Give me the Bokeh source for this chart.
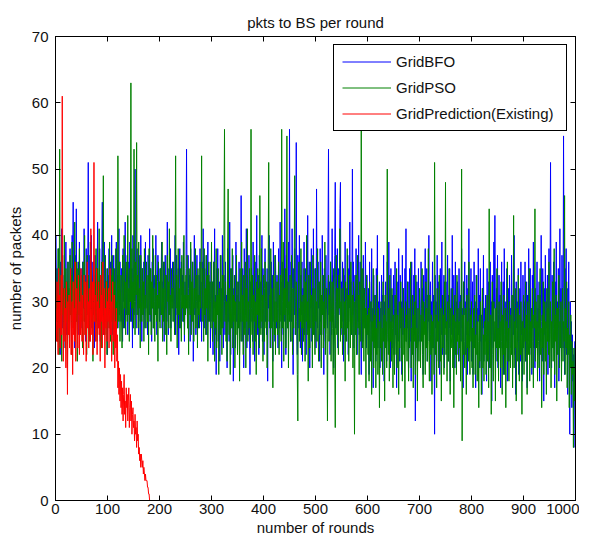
from bokeh.plotting import figure
from bokeh.models import LinearAxis, Range1d, Legend, LegendItem, FixedTicker
from bokeh.embed import file_html
from bokeh.resources import INLINE

title_text = "pkts to BS per round"
x_label = "number of rounds"
y_label = "number of packets"
x_ticks = [0, 100, 200, 300, 400, 500, 600, 700, 800, 900, 1000]
y_ticks = [0, 10, 20, 30, 40, 50, 60, 70]
series_names = ["GridBFO", "GridPSO", "GridPrediction(Existing)"]

grid_bfo = [
    40, 28, 35, 24, 33, 38, 27, 31, 22, 36, 29, 41, 26, 34, 30, 23, 37, 32, 28, 39, 25, 33, 30, 36, 27,
    31, 24, 38, 29, 35, 26, 40, 33, 45, 28, 32, 23, 37, 30, 44, 27, 34, 29, 36, 25, 39, 31, 28, 35, 30,
    26, 36, 32, 29, 41, 27, 34, 24, 38, 31, 28, 35, 51, 30, 25, 37, 33, 29, 40, 26, 32, 36, 28, 34, 23,
    37, 30, 27, 35, 31, 42, 26, 33, 29, 38, 24, 34, 30, 36, 45, 28, 32, 25, 39, 31, 27, 35, 30, 33, 22,
    34, 29, 38, 26, 31, 36, 28, 40, 25, 33, 30, 37, 27, 35, 24, 32, 39, 29, 34, 26, 31, 41, 28, 36, 30,
    27, 35, 31, 24, 38, 30, 33, 26, 42, 29, 34, 28, 37, 25, 32, 36, 30, 39, 27, 33, 29, 35, 23, 40, 31,
    28, 36, 50, 30, 26, 34, 38, 29, 32, 25, 37, 31, 27, 40, 33, 24, 35, 30, 28, 36, 32, 26, 39, 29, 34,
    30, 25, 37, 33, 28, 41, 27, 35, 31, 24, 36, 29, 38, 26, 32, 34, 28, 40, 30, 25, 33, 37, 29, 31, 27,
    35, 28, 32, 39, 26, 33, 30, 36, 24, 31, 37, 29, 34, 27, 42, 30, 25, 35, 32, 28, 38, 26, 33, 30, 36,
    29, 34, 27, 31, 40, 25, 33, 37, 28, 30, 35, 22, 32, 38, 29, 26, 36, 31, 34, 27, 39, 30, 24, 33, 28,
    35, 53, 30, 26, 37, 32, 29, 34, 24, 38, 31, 27, 36, 33, 21, 30, 40, 28, 35, 25, 32, 37, 29, 31, 26,
    34, 30, 38, 27, 33, 24, 36, 29, 41, 31, 26, 35, 28, 32, 37, 25, 30, 39, 27, 34, 29, 33, 23, 36, 31,
    27, 33, 22, 36, 29, 41, 25, 31, 19, 35, 28, 38, 24, 30, 33, 21, 37, 27, 32, 26, 40, 29, 23, 34, 30,
    25, 36, 28, 31, 20, 38, 27, 33, 24, 42, 29, 22, 35, 30, 26, 37, 18, 32, 28, 34, 23, 39, 27, 31, 25,
    33, 28, 36, 22, 30, 27, 46, 31, 24, 35, 29, 20, 38, 26, 32, 28, 41, 23, 34, 30, 25, 37, 29, 19, 33,
    27, 35, 30, 24, 39, 28, 32, 21, 36, 26, 31, 43, 25, 29, 34, 22, 37, 28, 33, 26, 30, 40, 24, 35, 29,
    22, 32, 38, 27, 30, 25, 35, 18, 33, 29, 40, 26, 31, 23, 36, 28, 34, 21, 39, 27, 30, 24, 37, 32, 26,
    34, 29, 23, 38, 31, 26, 42, 28, 33, 20, 36, 30, 25, 35, 27, 44, 31, 22, 37, 29, 33, 26, 39, 28, 56,
    30, 24, 36, 27, 41, 32, 19, 35, 28, 38, 25, 31, 54, 29, 22, 37, 33, 26, 40, 30, 23, 34, 28, 36, 21,
    32, 27, 39, 25, 30, 35, 22, 33, 28, 43, 26, 31, 36, 20, 34, 29, 38, 24, 32, 27, 41, 30, 25, 35, 28,
    23, 47, 30, 26, 36, 29, 33, 21, 38, 27, 31, 25, 40, 28, 34, 19, 35, 30, 24, 37, 29, 32, 26, 39, 53,
    28, 33, 22, 36, 30, 25, 41, 27, 34, 20, 31, 37, 48, 26, 32, 29, 38, 23, 35, 28, 30, 44, 48, 25, 33,
    27, 36, 31, 21, 34, 28, 39, 24, 32, 30, 26, 37, 22, 35, 29, 42, 27, 33, 25, 31, 50, 28, 36, 23, 30,
    34, 26, 38, 29, 22, 33, 27, 40, 25, 31, 36, 28, 19, 35, 30, 24, 37, 27, 32, 26, 39, 29, 23, 34, 28,
    25, 32, 19, 36, 27, 30, 22, 38, 26, 29, 17, 34, 24, 31, 28, 21, 35, 26, 40, 23, 30, 27, 33, 20, 29,
    26, 34, 22, 31, 28, 37, 18, 30, 25, 33, 27, 21, 36, 29, 24, 39, 26, 32, 20, 35, 28, 23, 31, 27, 34,
    22, 29, 36, 25, 31, 17, 33, 27, 24, 38, 28, 21, 34, 26, 30, 19, 37, 25, 32, 28, 23, 35, 27, 41, 24,
    30, 26, 33, 20, 28, 35, 24, 31, 18, 36, 27, 29, 22, 34, 25, 38, 12, 30, 26, 33, 21, 28, 35, 24, 31,
    27, 22, 36, 29, 25, 32, 19, 34, 26, 30, 38, 23, 28, 35, 21, 31, 27, 40, 24, 29, 33, 18, 30, 26, 36,
    23, 31, 28, 10, 34, 26, 30, 21, 37, 27, 33, 24, 29, 19, 35, 28, 25, 39, 22, 31, 27, 34, 20, 30, 26,
    33, 24, 29, 37, 21, 31, 26, 35, 18, 28, 32, 25, 40, 27, 23, 34, 29, 20, 36, 26, 30, 22, 33, 28, 25,
    35, 27, 21, 31, 24, 38, 26, 29, 17, 33, 28, 36, 22, 30, 25, 34, 19, 32, 27, 41, 23, 29, 26, 35, 21,
    28, 33, 19, 26, 36, 23, 30, 17, 34, 25, 29, 22, 38, 27, 31, 20, 35, 24, 28, 16, 32, 26, 37, 21, 29,
    24, 31, 27, 18, 35, 26, 22, 33, 28, 20, 36, 25, 30, 15, 34, 27, 23, 39, 29, 43, 26, 21, 32, 24, 37,
    20, 28, 34, 25, 31, 17, 29, 36, 23, 27, 33, 19, 38, 26, 22, 30, 24, 35, 18, 28, 32, 21, 34, 26, 29,
    23, 37, 27, 20, 31, 25, 40, 22, 29, 16, 33, 26, 30, 24, 35, 19, 28, 32, 21, 36, 25, 27, 18, 34, 23,
    30, 26, 36, 21, 28, 33, 17, 31, 24, 38, 27, 22, 35, 25, 29, 19, 34, 26, 39, 23, 30, 20, 32, 27, 24,
    36, 22, 29, 26, 33, 18, 31, 24, 40, 27, 21, 35, 28, 15, 32, 25, 37, 23, 30, 26, 34, 19, 28, 38, 24,
    31, 51, 26, 20, 34, 28, 23, 36, 27, 17, 33, 25, 39, 22, 30, 26, 35, 18, 29, 41, 24, 32, 21, 37, 27,
    23, 55, 30, 19, 35, 26, 38, 22, 32, 16, 28, 36, 24, 10, 30, 20, 27, 14, 25, 18, 22, 8, 19, 24, 13,
]

grid_pso = [
    35, 27, 31, 24, 38, 29, 22, 53, 30, 26, 34, 21, 37, 28, 32, 25, 40, 30, 23, 35, 27, 33, 20, 36, 29,
    32, 25, 37, 28, 34, 22, 39, 30, 26, 33, 29, 42, 24, 31, 27, 36, 21, 35, 30, 28, 38, 25, 32, 27, 34,
    29, 23, 36, 31, 27, 40, 25, 33, 30, 22, 37, 28, 34, 26, 31, 24, 39, 29, 35, 27, 32, 21, 36, 30, 28,
    33, 26, 38, 29, 24, 35, 31, 27, 41, 25, 32, 30, 23, 36, 28, 34, 49, 27, 31, 25, 37, 29, 33, 22, 35,
    28, 32, 26, 39, 30, 24, 34, 27, 37, 31, 22, 35, 29, 33, 25, 38, 28, 30, 26, 52, 32, 27, 36, 24, 31,
    34, 28, 23, 37, 30, 26, 40, 29, 33, 25, 36, 31, 27, 43, 28, 32, 24, 35, 30, 63, 27, 38, 29, 33, 26,
    53, 30, 25, 36, 31, 54, 28, 34, 26, 39, 29, 32, 23, 37, 30, 27, 35, 28, 33, 24, 38, 29, 31, 26, 36,
    30, 27, 34, 22, 38, 31, 28, 35, 25, 33, 29, 40, 26, 32, 30, 24, 37, 28, 34, 27, 31, 21, 36, 29, 33,
    26, 35, 30, 28, 39, 24, 32, 27, 36, 31, 25, 34, 29, 22, 37, 30, 33, 26, 41, 28, 31, 24, 35, 29, 32,
    27, 36, 30, 25, 33, 52, 29, 34, 23, 31, 38, 28, 32, 26, 35, 30, 24, 37, 29, 33, 27, 40, 25, 31, 28,
    34, 29, 37, 26, 31, 22, 35, 30, 28, 39, 25, 33, 27, 36, 31, 24, 32, 29, 38, 26, 30, 34, 23, 35, 28,
    31, 26, 36, 29, 33, 52, 27, 35, 30, 24, 38, 28, 32, 25, 37, 29, 34, 21, 31, 36, 27, 33, 30, 26, 39,
    28, 24, 33, 27, 36, 21, 30, 26, 38, 23, 31, 28, 35, 19, 32, 27, 25, 37, 29, 22, 34, 26, 31, 40, 56,
    27, 33, 24, 30, 21, 36, 47, 28, 25, 32, 19, 35, 29, 26, 38, 23, 31, 27, 34, 20, 30, 25, 37, 28, 22,
    33, 26, 30, 18, 35, 28, 24, 39, 27, 31, 22, 34, 29, 25, 36, 20, 32, 27, 41, 24, 30, 26, 35, 28, 23,
    56, 29, 25, 34, 22, 31, 27, 37, 24, 30, 19, 33, 28, 35, 26, 32, 23, 46, 29, 25, 38, 27, 31, 21, 34,
    28, 24, 36, 30, 26, 33, 20, 29, 35, 51, 27, 31, 23, 38, 26, 32, 28, 17, 34, 29, 25, 37, 22, 30, 27,
    33, 25, 29, 36, 22, 31, 27, 34, 24, 56, 30, 26, 39, 21, 32, 28, 35, 23, 29, 55, 26, 33, 20, 30, 27,
    34, 28, 24, 37, 29, 22, 32, 26, 35, 49, 30, 25, 33, 27, 19, 12, 31, 36, 24, 29, 27, 38, 22, 30, 26,
    31, 24, 35, 28, 21, 33, 27, 40, 25, 30, 18, 34, 28, 23, 36, 26, 31, 29, 20, 37, 25, 32, 27, 22, 35,
    27, 30, 24, 38, 26, 21, 33, 29, 25, 36, 20, 31, 28, 34, 23, 30, 26, 39, 22, 28, 32, 25, 12, 29, 34,
    24, 31, 27, 36, 21, 29, 33, 26, 19, 35, 28, 23, 11, 30, 37, 25, 32, 27, 22, 34, 29, 41, 24, 30, 26,
    32, 22, 28, 35, 25, 30, 18, 33, 27, 24, 38, 26, 31, 21, 29, 34, 23, 36, 28, 25, 31, 20, 33, 27, 10,
    30, 25, 34, 22, 29, 37, 26, 31, 19, 33, 27, 24, 56, 28, 23, 35, 30, 21, 32, 26, 29, 17, 34, 25, 28,
    22, 29, 18, 33, 25, 21, 30, 16, 27, 24, 35, 20, 28, 23, 31, 17, 26, 22, 34, 19, 29, 25, 14, 27, 23,
    30, 21, 26, 19, 33, 24, 28, 15, 31, 23, 27, 20, 50, 25, 22, 29, 18, 34, 24, 27, 21, 32, 26, 17, 28,
    24, 19, 31, 26, 22, 35, 20, 28, 25, 16, 30, 23, 27, 33, 21, 29, 18, 25, 32, 22, 26, 14, 30, 24, 28,
    21, 33, 25, 18, 29, 23, 27, 36, 20, 26, 22, 31, 17, 28, 24, 30, 19, 34, 23, 26, 15, 29, 25, 21, 32,
    26, 20, 28, 24, 35, 22, 17, 30, 25, 27, 19, 33, 23, 29, 21, 26, 38, 24, 18, 31, 25, 22, 28, 16, 27,
    23, 30, 19, 51, 26, 22, 28, 17, 32, 24, 27, 20, 34, 25, 21, 29, 15, 26, 31, 23, 28, 19, 33, 25, 48,
    22, 27, 18, 30, 24, 21, 35, 26, 16, 29, 23, 25, 32, 20, 28, 14, 26, 31, 22, 27, 19, 34, 24, 29, 21,
    27, 23, 30, 18, 25, 50, 9, 28, 22, 33, 24, 20, 29, 26, 16, 31, 23, 27, 21, 36, 25, 19, 28, 24, 30,
    20, 26, 17, 29, 23, 31, 19, 25, 22, 34, 18, 27, 24, 14, 28, 21, 30, 23, 16, 26, 32, 20, 25, 18, 27,
    22, 29, 19, 25, 31, 21, 27, 17, 44, 24, 20, 28, 13, 26, 33, 22, 18, 30, 24, 27, 15, 29, 23, 35, 21,
    26, 18, 30, 23, 27, 20, 33, 24, 16, 28, 22, 31, 19, 25, 29, 14, 27, 23, 36, 21, 26, 18, 30, 24, 20,
    28, 22, 31, 17, 25, 43, 20, 27, 23, 32, 15, 26, 29, 21, 34, 24, 18, 28, 22, 30, 25, 13, 27, 23, 31,
    19, 26, 24, 33, 21, 28, 16, 30, 25, 22, 35, 18, 27, 23, 29, 20, 32, 24, 17, 28, 26, 44, 21, 30, 23,
    27, 18, 31, 24, 20, 29, 35, 22, 26, 14, 28, 23, 33, 19, 25, 30, 21, 27, 16, 32, 24, 29, 22, 36, 20,
    25, 30, 17, 27, 23, 33, 21, 26, 38, 19, 28, 24, 31, 15, 29, 22, 26, 34, 20, 27, 23, 30, 18, 25, 32,
    21, 27, 24, 46, 19, 29, 23, 33, 17, 26, 22, 30, 14, 25, 20, 28, 16, 24, 19, 21, 8, 23, 15, 20, 17,
]

grid_prediction = [
    29, 24, 33, 27, 22, 35, 26, 31, 23, 28, 34, 25, 61, 30, 21, 27, 32, 24, 29, 20, 33, 26, 16, 30, 25,
    31, 23, 28, 35, 22, 27, 30, 19, 33, 25, 29, 24, 36, 21, 28, 32, 26, 23, 34, 27, 22, 30, 25, 35, 28,
    24, 31, 27, 22, 34, 29, 25, 33, 21, 28, 36, 26, 30, 23, 32, 27, 24, 41, 29, 25, 33, 22, 30, 51, 27,
    31, 24, 28, 35, 22, 30, 26, 33, 25, 29, 21, 34, 27, 31, 23, 36, 28, 25, 32, 20, 29, 26, 33, 24, 30,
    27, 32, 23, 29, 35, 25, 30, 21, 28, 33, 24, 26, 31, 20, 27, 23, 29, 21, 25, 17, 21, 16, 20, 15, 19,
    14, 18, 13, 17, 12, 16, 19, 13, 15, 11, 17, 14, 16, 12, 15, 17, 11, 14, 16, 12, 15, 10, 13, 14, 11,
    12, 9, 13, 10, 11, 8, 12, 9, 10, 7, 8, 6, 7, 5, 7, 6, 5, 6, 4, 5, 4, 3, 4, 3, 3,
    3, 2, 2, 1, 1, 0,
]

rounds_bfo = list(range(1, len(grid_bfo) + 1))
rounds_pso = list(range(1, len(grid_pso) + 1))
rounds_pred = list(range(1, len(grid_prediction) + 1))

FONT = "Liberation Sans"
FS = "15px"
TXT = "#111111"

p = figure(width=579, height=539, output_backend="svg", toolbar_location=None,
           x_range=Range1d(0, 1000), y_range=Range1d(0, 70),
           min_border_left=55, min_border_right=4, min_border_top=36, min_border_bottom=39,
           x_axis_label=x_label, y_axis_label=y_label)
p.background_fill_color = "white"
p.border_fill_color = "white"
p.outline_line_color = "black"
p.outline_line_alpha = 1.0
p.xgrid.visible = False
p.ygrid.visible = False

p.title.text = title_text
p.title.align = "center"
p.title.text_font = FONT
p.title.text_font_size = FS
p.title.text_font_style = "normal"
p.title.text_color = TXT
p.title.standoff = 11

def style_axis(ax, ticks, show_labels):
    ax.ticker = FixedTicker(ticks=ticks)
    ax.major_tick_in = 5
    ax.major_tick_out = 0
    ax.minor_tick_in = 0
    ax.minor_tick_out = 0
    ax.axis_line_color = "black"
    ax.major_tick_line_color = "black"
    ax.major_label_text_font = FONT
    if show_labels:
        ax.major_label_text_font_size = FS
        ax.major_label_text_color = TXT
    else:
        ax.major_label_text_font_size = "0px"
        ax.major_label_text_color = None
        ax.major_label_standoff = 0

style_axis(p.xaxis[0], x_ticks, True)
style_axis(p.yaxis[0], y_ticks, True)
p.xaxis[0].major_label_standoff = 3
p.yaxis[0].major_label_standoff = 7
for ax in (p.xaxis[0], p.yaxis[0]):
    ax.axis_label_text_font = FONT
    ax.axis_label_text_font_size = FS
    ax.axis_label_text_font_style = "normal"
    ax.axis_label_text_color = TXT
p.xaxis[0].axis_label_standoff = 2
p.yaxis[0].axis_label_standoff = 5

top_ax = LinearAxis()
style_axis(top_ax, x_ticks, False)
p.add_layout(top_ax, "above")
right_ax = LinearAxis()
style_axis(right_ax, y_ticks, False)
p.add_layout(right_ax, "right")

r1 = p.line(rounds_bfo, grid_bfo, line_color="#0000FF", line_width=1)
r2 = p.line(rounds_pso, grid_pso, line_color="#008000", line_width=1)
r3 = p.line(rounds_pred, grid_prediction, line_color="#FF0000", line_width=1)

legend = Legend(items=[LegendItem(label=series_names[0], renderers=[r1]),
                       LegendItem(label=series_names[1], renderers=[r2]),
                       LegendItem(label=series_names[2], renderers=[r3])],
                location="top_right")
legend.label_text_font = FONT
legend.label_text_font_size = FS
legend.label_text_color = TXT
legend.glyph_width = 49
legend.glyph_height = 17
legend.label_height = 17
legend.label_width = 162
legend.label_standoff = 5
legend.spacing = 9
legend.padding = 8
legend.margin = 8
legend.border_line_color = "black"
legend.border_line_width = 1
legend.border_line_alpha = 1.0
legend.background_fill_color = "white"
legend.background_fill_alpha = 1.0
p.add_layout(legend)

open("out.html", "w").write(file_html(p, INLINE))
